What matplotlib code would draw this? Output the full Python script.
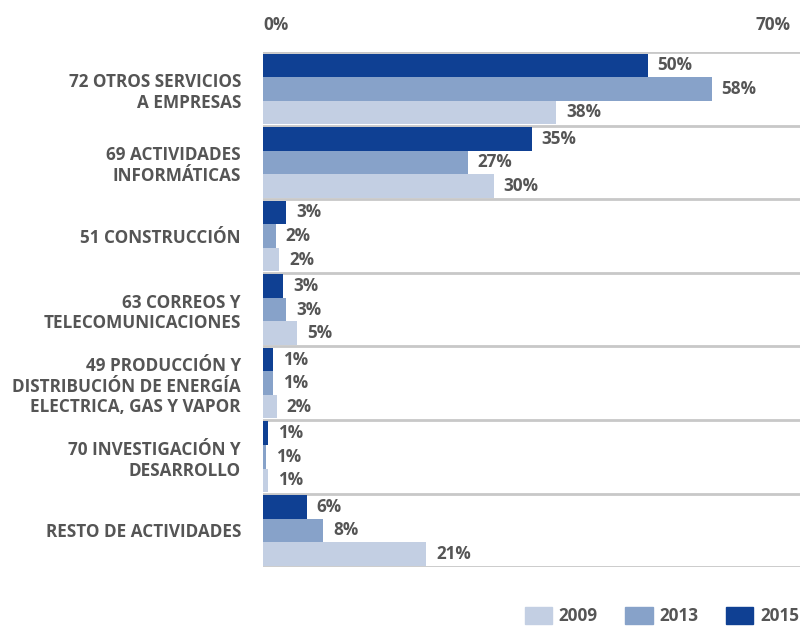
import matplotlib.pyplot as plt
from matplotlib.patches import Patch

# datos
categorias = ["72 OTROS SERVICIOS\nA EMPRESAS",
              "69 ACTIVIDADES\nINFORMÁTICAS",
              "51 CONSTRUCCIÓN",
              "63 CORREOS Y\nTELECOMUNICACIONES",
              "49 PRODUCCIÓN Y\nDISTRIBUCIÓN DE ENERGÍA\nELECTRICA, GAS Y VAPOR",
              "70 INVESTIGACIÓN Y\nDESARROLLO",
              "RESTO DE ACTIVIDADES"]
anios = ["2009", "2013", "2015"]
v2015 = [50.0, 34.9, 3.0, 2.6, 1.3, 0.65, 5.7]
v2013 = [58.3, 26.6, 1.6, 3.0, 1.3, 0.35, 7.8]
v2009 = [38.1, 30.0, 2.1, 4.4, 1.8, 0.65, 21.2]
et2015 = ["50%", "35%", "3%", "3%", "1%", "1%", "6%"]
et2013 = ["58%", "27%", "2%", "3%", "1%", "1%", "8%"]
et2009 = ["38%", "30%", "2%", "5%", "2%", "1%", "21%"]

colores = {"2009": "#c3cfe3", "2013": "#87a2c9", "2015": "#0f4093"}
gris = "#555555"
fs = 12.3
plt.rcParams['font.family'] = ['Open Sans', 'DejaVu Sans']

fig = plt.figure(figsize=(8, 6.28), dpi=100)
ax = fig.add_axes([0.329, 0.097, 0.671, 0.82])

h = 0.32
series = [(v2015, et2015, "2015", -h), (v2013, et2013, "2013", 0), (v2009, et2009, "2009", h)]
for vals, etiq, anio, off in series:
    ys = [i + off for i in range(len(categorias))]
    ax.barh(ys, vals, height=h, color=colores[anio], linewidth=0)
    for y, v, t in zip(ys, vals, etiq):
        ax.annotate(t, (v, y), xytext=(7, 0), textcoords="offset points",
                    va="center", ha="left", fontsize=fs, fontweight="bold", color=gris)

for i in range(len(categorias) + 1):
    ax.axhline(i - 0.5, color="#c8c8c8", lw=2, zorder=0)

ax.set_ylim(len(categorias) - 0.5, -0.5)
ax.set_xlim(0, 69.8)
ax.set_yticks(range(len(categorias)))
ax.set_yticklabels(categorias, fontsize=fs, fontweight="bold", color=gris, linespacing=1.2)
ax.tick_params(axis="y", length=0, pad=16)
ax.set_xticks([])
for s in ax.spines.values():
    s.set_visible(False)

fig.text(0.329, 0.96, "0%", ha="left", va="center", fontsize=fs, fontweight="bold", color=gris)
fig.text(0.988, 0.96, "70%", ha="right", va="center", fontsize=fs, fontweight="bold", color=gris)

handles = [Patch(color=colores[a], label=a) for a in anios]
leg = fig.legend(handles=handles, loc="lower right", bbox_to_anchor=(1.018, -0.02), ncol=3,
                 frameon=False, handlelength=1.6, handleheight=1.1, columnspacing=1.6,
                 handletextpad=0.4, prop={"size": fs, "weight": "bold"})
for t in leg.get_texts():
    t.set_color(gris)

fig.savefig("out.png", dpi=100)
